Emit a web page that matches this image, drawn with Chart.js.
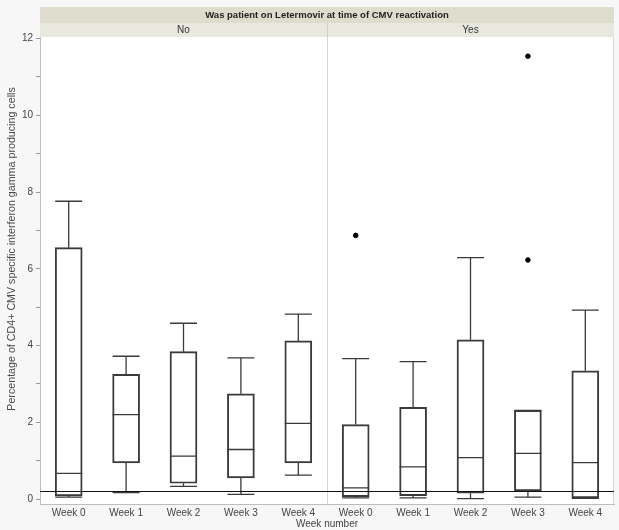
<!DOCTYPE html>
<html>
<head>
<meta charset="utf-8">
<script src="https://cdn.jsdelivr.net/npm/chart.js@4.4.1/dist/chart.umd.min.js"></script>
<style>
  html, body { margin: 0; padding: 0; background: #f7f7f7; }
</style>
</head>
<body>
<canvas id="boxChart" width="619" height="530"></canvas>
<script>
// Week categories, repeated for each panel
var weekLabels = ['Week 0', 'Week 1', 'Week 2', 'Week 3', 'Week 4'];
var groups = ['No', 'Yes'];
var headerTitle = 'Was patient on Letermovir at time of CMV reactivation';
var yTitle = 'Percentage of CD4+ CMV specific interferon gamma producing cells';

// Box plot values (No panel)
var noMin = [0.05, 0.17, 0.33, 0.12, 0.62];
var noQ1  = [0.08, 0.94, 0.41, 0.55, 0.94];
var noMed = [0.67, 2.20, 1.12, 1.29, 1.97];
var noQ3  = [6.55, 3.25, 3.84, 2.74, 4.12];
var noMax = [7.76, 3.72, 4.58, 3.68, 4.82];

// Yes panel
var yesMin = [0.03, 0.03, 0.01, 0.05, 0.02];
var yesQ1  = [0.06, 0.09, 0.15, 0.21, 0.03];
var yesMed = [0.29, 0.84, 1.08, 1.19, 0.95];
var yesQ3  = [1.94, 2.39, 4.15, 2.31, 3.34];
var yesMax = [3.66, 3.58, 6.29, 2.31, 4.92];

// Outliers: [week index in Yes panel, value]
var yesOutliers = [[0, 6.87], [3, 11.54], [3, 6.23]];

var refLine = 0.2;
var yTicks = [0, 2, 4, 6, 8, 10, 12];

// all 10 boxes in order
var labels = weekLabels.concat(weekLabels);
var mins = noMin.concat(yesMin);
var q1s = noQ1.concat(yesQ1);
var meds = noMed.concat(yesMed);
var q3s = noQ3.concat(yesQ3);
var maxs = noMax.concat(yesMax);

var boxData = q1s.map(function (q, i) { return [q, q3s[i]]; });

// one dataset per "layer" of outliers so a category can have more than one
var outlierSets = [];
yesOutliers.forEach(function (o) {
    var idx = o[0] + weekLabels.length;
    var set = null;
    for (var k = 0; k < outlierSets.length; k++) {
        if (outlierSets[k][idx] === null) { set = outlierSets[k]; break; }
    }
    if (!set) {
        set = labels.map(function () { return null; });
        outlierSets.push(set);
    }
    set[idx] = o[1];
});

var lineColor = '#3a3a3a';
var lineW = 1.3;
var boxHalf = 13.5;
var fontFamily = '"Liberation Sans", Arial, sans-serif';

// background, header bands, whiskers, medians, reference line
var boxPlugin = {
    id: 'boxPlugin',
    beforeDraw: function (chart) {
        var c = chart.ctx, a = chart.chartArea;
        c.save();
        c.fillStyle = '#f7f7f7';
        c.fillRect(0, 0, chart.width, chart.height);
        c.fillStyle = '#ffffff';
        c.fillRect(a.left, a.top, a.right - a.left, a.bottom - a.top);

        var xs = chart.scales.x;
        var mid = Math.round((xs.getPixelForValue(4) + xs.getPixelForValue(5)) / 2);
        c.fillStyle = '#dddccd';
        c.fillRect(a.left, 7, a.right - a.left, 16);
        c.fillStyle = '#e9e8de';
        c.fillRect(a.left, 23, a.right - a.left, 14);
        c.fillStyle = '#222';
        c.font = 'bold 9.5px ' + fontFamily;
        c.textAlign = 'center';
        c.textBaseline = 'middle';
        c.fillText(headerTitle, (a.left + a.right) / 2, 15.5);
        c.font = '10px ' + fontFamily;
        c.fillStyle = '#333';
        c.fillText(groups[0], (a.left + mid) / 2, 30);
        c.fillText(groups[1], (mid + a.right) / 2, 30);
        c.strokeStyle = '#cfcfc4';
        c.lineWidth = 1;
        c.beginPath();
        c.moveTo(mid + 0.5, 23); c.lineTo(mid + 0.5, 37);
        c.stroke();

        // y axis title
        c.translate(12, 249);
        c.rotate(-Math.PI / 2);
        c.font = '10.7px ' + fontFamily;
        c.fillStyle = '#4a4a4a';
        c.fillText(yTitle, 0, 0);
        c.restore();
    },
    afterDatasetsDraw: function (chart) {
        var c = chart.ctx, a = chart.chartArea;
        var xs = chart.scales.x, ys = chart.scales.y;
        c.save();
        var mid = Math.round((xs.getPixelForValue(4) + xs.getPixelForValue(5)) / 2);
        c.strokeStyle = '#d4d4d4';
        c.lineWidth = 1;
        c.beginPath();
        c.moveTo(mid + 0.5, a.top);
        c.lineTo(mid + 0.5, a.bottom);
        c.moveTo(a.right - 0.5, a.top);
        c.lineTo(a.right - 0.5, a.bottom);
        c.stroke();

        c.strokeStyle = lineColor;
        c.lineWidth = lineW;
        for (var i = 0; i < labels.length; i++) {
            var x = xs.getPixelForValue(i);
            var yMin = ys.getPixelForValue(mins[i]);
            var yQ1 = ys.getPixelForValue(q1s[i]);
            var yMed = ys.getPixelForValue(meds[i]);
            var yQ3 = ys.getPixelForValue(q3s[i]);
            var yMax = ys.getPixelForValue(maxs[i]);
            c.beginPath();
            // upper whisker
            c.moveTo(x, yQ3); c.lineTo(x, yMax);
            c.moveTo(x - boxHalf, yMax); c.lineTo(x + boxHalf, yMax);
            // lower whisker
            c.moveTo(x, yQ1); c.lineTo(x, yMin);
            c.moveTo(x - boxHalf, yMin); c.lineTo(x + boxHalf, yMin);
            // median
            c.moveTo(x - boxHalf, yMed); c.lineTo(x + boxHalf, yMed);
            c.stroke();
        }

        // reference line
        var yr = Math.round(ys.getPixelForValue(refLine)) + 0.5;
        c.strokeStyle = '#111';
        c.lineWidth = 1;
        c.beginPath();
        c.moveTo(a.left, yr);
        c.lineTo(a.right, yr);
        c.stroke();
        c.restore();
    }
};

var datasets = [{
    label: 'Box',
    data: boxData,
    backgroundColor: 'rgba(255,255,255,0)',
    borderColor: lineColor,
    borderWidth: lineW,
    borderSkipped: false,
    barThickness: boxHalf * 2,
    grouped: false,
    order: 2
}];
outlierSets.forEach(function (set, k) {
    datasets.push({
        type: 'line',
        label: 'Outliers ' + k,
        data: set,
        showLine: false,
        spanGaps: false,
        pointRadius: 2.3,
        pointBackgroundColor: '#000',
        pointBorderColor: '#000',
        order: 1
    });
});

var ctx = document.getElementById('boxChart').getContext('2d');
var myChart = new Chart(ctx, {
    type: 'bar',
    data: { labels: labels, datasets: datasets },
    options: {
        responsive: false,
        animation: false,
        devicePixelRatio: 1,
        layout: { padding: { top: 37, right: 2, left: 0, bottom: 0 } },
        plugins: {
            legend: { display: false },
            tooltip: { enabled: false }
        },
        scales: {
            x: {
                offset: true,
                grid: { display: false, drawTicks: false },
                border: { color: '#bdbdbd' },
                ticks: {
                    color: '#444',
                    font: { family: fontFamily, size: 10 },
                    padding: 3,
                    maxRotation: 0,
                    autoSkip: false
                },
                title: {
                    display: true,
                    text: 'Week number',
                    color: '#444',
                    font: { family: fontFamily, size: 10 },
                    padding: { top: -1, bottom: 0 }
                },
                afterFit: function (scale) { scale.height = 26; }
            },
            y: {
                min: -0.13,
                max: 12.04,
                grid: {
                    drawOnChartArea: false,
                    tickLength: 4,
                    color: '#9a9a9a'
                },
                border: { color: '#bdbdbd' },
                ticks: {
                    stepSize: 1,
                    includeBounds: false,
                    color: '#444',
                    padding: 3,
                    font: { family: fontFamily, size: 10 },
                    callback: function (v) {
                        return yTicks.indexOf(v) >= 0 ? v : '';
                    }
                },
                afterFit: function (scale) { scale.width = 40; }
            }
        }
    },
    plugins: [boxPlugin]
});
</script>
</body>
</html>
